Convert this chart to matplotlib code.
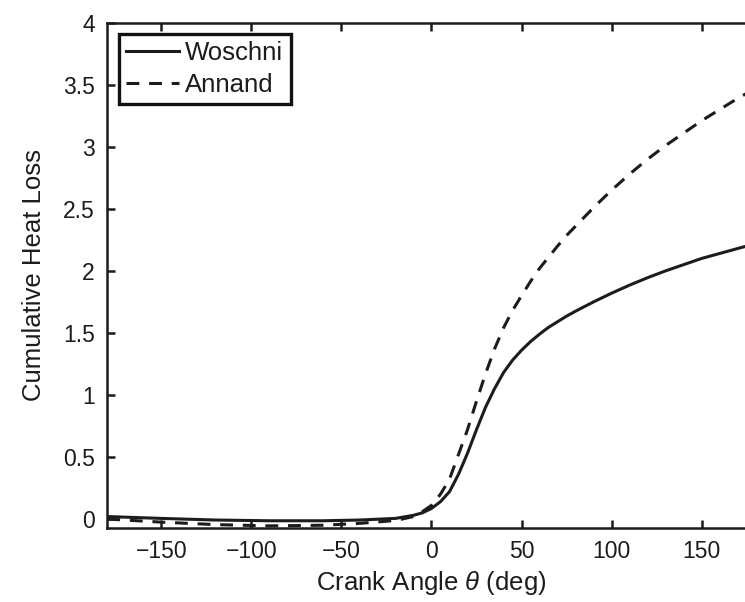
import numpy as np
import matplotlib
matplotlib.use('Agg')
from matplotlib import pyplot as plt

plt.rcParams['font.family'] = ['Liberation Sans', 'DejaVu Sans']
plt.rcParams['mathtext.fontset'] = 'custom'
plt.rcParams['mathtext.it'] = 'Liberation Sans:italic'
plt.rcParams['mathtext.rm'] = 'Liberation Sans'

ink = '#1c1c1c'

# Crank angle (deg) and cumulative heat loss for the two correlations
theta = [-180, -150, -120, -90, -60, -40, -20, -10, -5, 0, 5, 10, 15, 20, 25, 30,
         35, 40, 45, 50, 55, 60, 65, 70, 75, 80, 90, 100, 110, 120, 130, 140,
         150, 160, 170, 180]
woschni = [0.02, 0.005, -0.008, -0.014, -0.014, -0.008, 0.005, 0.03, 0.05, 0.085,
           0.14, 0.22, 0.36, 0.53, 0.72, 0.90, 1.05, 1.18, 1.28, 1.36, 1.43, 1.49,
           1.545, 1.59, 1.635, 1.675, 1.75, 1.82, 1.885, 1.945, 2.00, 2.05, 2.10,
           2.14, 2.18, 2.22]
annand = [0.0, -0.025, -0.045, -0.055, -0.05, -0.035, -0.012, 0.02, 0.06, 0.11,
          0.20, 0.32, 0.52, 0.72, 0.95, 1.17, 1.37, 1.54, 1.68, 1.80, 1.915, 2.02,
          2.11, 2.20, 2.285, 2.36, 2.51, 2.65, 2.78, 2.90, 3.01, 3.11, 3.21, 3.30,
          3.39, 3.47]

xticks = [-150, -100, -50, 0, 50, 100, 150]
xticklabels = ['\u2212150', '\u2212100', '\u221250', '0', '50', '100', '150']
yticks = [0, 0.5, 1, 1.5, 2, 2.5, 3, 3.5, 4]
yticklabels = ['0', '0.5', '1', '1.5', '2', '2.5', '3', '3.5', '4']

fig = plt.figure(figsize=(7.45, 6.02), dpi=100)
ax = fig.add_axes([0.144, 0.1234, 0.8703, 0.8389])

ax.plot(theta, woschni, color=ink, lw=2.2, ls='-', label='Woschni')
ax.plot(theta, annand, color=ink, lw=2.2, ls=(0, (4.2, 3.2)), label='Annand')

ax.set_xlim(-180, 180)
ax.set_ylim(-0.07, 4)
ax.set_xticks(xticks)
ax.set_xticklabels(xticklabels)
ax.set_yticks(yticks)
ax.set_yticklabels(yticklabels)

for s in ax.spines.values():
    s.set_linewidth(1.8)
    s.set_color(ink)
ax.tick_params(direction='in', length=6, width=1.8, color=ink,
               labelsize=16.5, labelcolor=ink, top=True, right=True, pad=9)

ax.set_xlabel(r'Crank Angle $\theta$ (deg)', fontsize=18.5, color=ink, labelpad=4)
ax.set_ylabel('Cumulative Heat Loss', fontsize=18.5, color=ink, labelpad=12)

leg = ax.legend(loc='upper left', bbox_to_anchor=(0.018, 0.978), fontsize=18.5,
                frameon=True, fancybox=False, framealpha=1, edgecolor='#111111',
                handlelength=2.05, handletextpad=0.25, borderpad=0.28,
                labelspacing=0.3, borderaxespad=0.0)
leg.get_frame().set_linewidth(2.4)
for t in leg.get_texts():
    t.set_color(ink)

fig.savefig('out.png', dpi=100)
